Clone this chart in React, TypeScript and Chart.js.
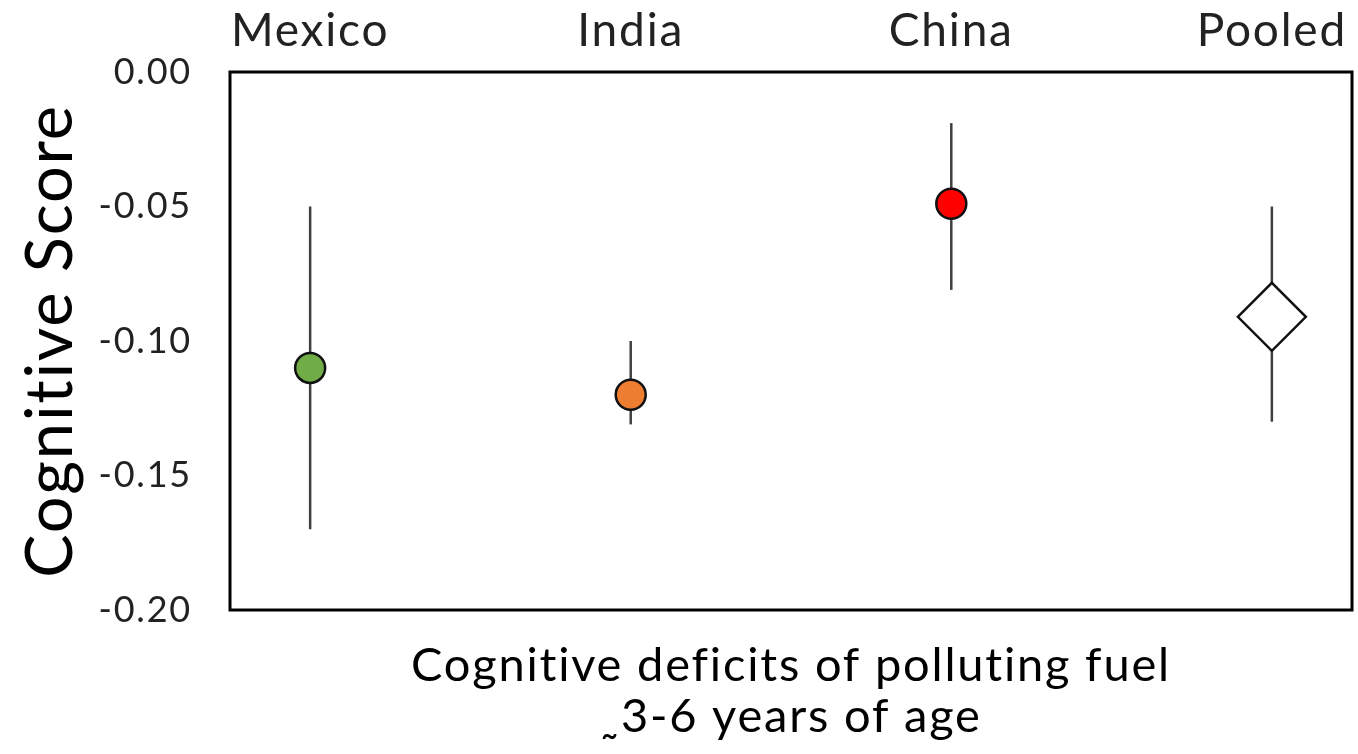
import React, { useEffect, useRef } from "react";
import { Chart, registerables } from "chart.js";

Chart.register(...registerables);

// Country groups shown along the plot, in order
const categories: string[] = ["Mexico", "India", "China", "Pooled"];
const positions: number[] = [1, 2, 3, 4];

// Effect estimates with their confidence limits
const estimates: number[] = [-0.11, -0.12, -0.049, -0.091];
const lowerLimits: number[] = [-0.17, -0.131, -0.081, -0.13];
const upperLimits: number[] = [-0.05, -0.1, -0.019, -0.05];

// Marker appearance per group
const markerColors: string[] = ["#70AD47", "#ED7D31", "#FF0000", "#FFFFFF"];
const markerStyles: string[] = ["circle", "circle", "circle", "rectRot"];
const markerRadii: number[] = [15, 15, 15, 34];

// Y axis ticks
const yTicks: number[] = [0, -0.05, -0.1, -0.15, -0.2];

const xTitleLines: string[] = ["Cognitive deficits of polluting fuel", "˷3-6 years of age"];
const yTitle = "Cognitive Score";

const FONT = "Lato, 'Open Sans', sans-serif";

// Text setup shared by every label: plain glyphs (no ligatures) and a little tracking
const textStylePlugin = {
  id: "textStyle",
  beforeInit(chart: any) {
    const ctx = chart.ctx as any;
    ctx.textRendering = "optimizeSpeed";
    ctx.letterSpacing = "1.8px";
  },
  beforeDraw(chart: any) {
    const ctx = chart.ctx as any;
    ctx.textRendering = "optimizeSpeed";
    ctx.letterSpacing = "1.8px";
  },
};

const errorBarPlugin = {
  id: "errorBars",
  beforeDatasetsDraw(chart: any) {
    const { ctx, scales } = chart;
    const xs = scales.x;
    const ys = scales.y;
    ctx.save();
    ctx.strokeStyle = "#404040";
    ctx.lineWidth = 2.5;
    positions.forEach((p, i) => {
      const px = xs.getPixelForValue(p);
      ctx.beginPath();
      ctx.moveTo(px, ys.getPixelForValue(lowerLimits[i]));
      ctx.lineTo(px, ys.getPixelForValue(upperLimits[i]));
      ctx.stroke();
    });
    ctx.restore();
  },
};

const framePlugin = {
  id: "plotFrame",
  afterDraw(chart: any) {
    const { ctx, chartArea } = chart;
    ctx.save();
    ctx.strokeStyle = "#000";
    ctx.lineWidth = 3;
    ctx.strokeRect(
      chartArea.left,
      chartArea.top,
      chartArea.right - chartArea.left,
      chartArea.bottom - chartArea.top
    );
    ctx.restore();
  },
};

export default function App() {
  const canvasRef = useRef<HTMLCanvasElement | null>(null);

  useEffect(() => {
    document.body.style.margin = "0";
    const canvas = canvasRef.current;
    if (!canvas) return;

    const chart = new Chart(canvas, {
      type: "scatter",
      data: {
        datasets: [
          {
            data: positions.map((p, i) => ({ x: p, y: estimates[i] })),
            pointBackgroundColor: markerColors,
            pointBorderColor: "#111",
            pointBorderWidth: 2.5,
            pointStyle: markerStyles as any,
            pointRadius: markerRadii,
            pointHoverRadius: markerRadii,
            xAxisID: "x",
            yAxisID: "y",
          },
        ],
      },
      options: {
        animation: false,
        responsive: false,
        maintainAspectRatio: false,
        events: [],
        layout: { autoPadding: false, padding: { left: 0, right: 6, top: 0, bottom: 0 } },
        plugins: {
          legend: { display: false },
          tooltip: { enabled: false },
        },
        scales: {
          x: {
            type: "linear",
            position: "bottom",
            min: 0.75,
            max: 4.25,
            grid: { display: false, drawTicks: false },
            border: { display: false },
            ticks: { display: false },
            title: {
              display: true,
              text: xTitleLines,
              color: "#000",
              font: { family: FONT, size: 47, lineHeight: 1.1 },
              padding: { top: 0, bottom: 11 },
            },
            afterFit: (s: any) => {
              s.height = 144;
              s.paddingLeft = 0;
              s.paddingRight = 0;
            },
          },
          xTop: {
            type: "linear",
            position: "top",
            min: 0.75,
            max: 4.25,
            grid: { display: false, drawTicks: false },
            border: { display: false },
            afterBuildTicks: (s: any) => {
              s.ticks = positions.map((v) => ({ value: v }));
            },
            ticks: {
              color: "#222",
              padding: 13,
              maxRotation: 0,
              autoSkip: false,
              font: { family: FONT, size: 46 },
              callback: (v: any) => {
                const i = positions.indexOf(Number(v));
                return i >= 0 ? categories[i] : "";
              },
            },
            afterFit: (s: any) => {
              s.height = 72;
              s.paddingLeft = 0;
              s.paddingRight = 0;
            },
          },
          y: {
            type: "linear",
            min: -0.2,
            max: 0,
            grid: { display: false, drawTicks: false },
            border: { display: false },
            afterBuildTicks: (s: any) => {
              s.ticks = yTicks.map((v) => ({ value: v }));
            },
            ticks: {
              color: "#222",
              padding: 38,
              font: { family: FONT, size: 36 },
              callback: (v: any) => {
                const n = Math.abs(Number(v)) < 1e-9 ? 0 : Number(v);
                return n.toFixed(2);
              },
            },
            title: {
              display: true,
              text: yTitle,
              color: "#000",
              font: { family: FONT, size: 65, lineHeight: 1.2 },
              padding: { top: 12, bottom: 0 },
            },
            afterFit: (s: any) => {
              s.width = 230;
              s.paddingTop = 0;
              s.paddingBottom = 0;
            },
          },
        },
      },
      plugins: [textStylePlugin, errorBarPlugin, framePlugin],
    });

    return () => chart.destroy();
  }, []);

  return (
    <div style={{ width: 1358, height: 754, background: "#fff" }}>
      <canvas ref={canvasRef} width={1358} height={754} style={{ display: "block" }} />
    </div>
  );
}
